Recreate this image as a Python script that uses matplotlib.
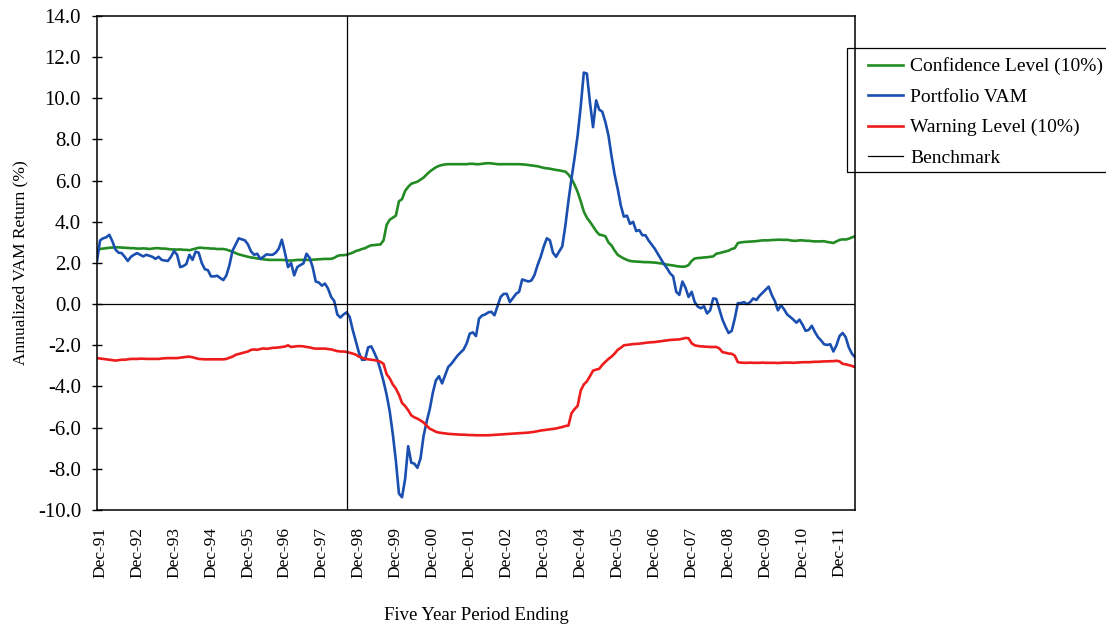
import matplotlib
matplotlib.use("Agg")
import matplotlib.pyplot as plt
from matplotlib.patches import Rectangle
import numpy as np

plt.rcParams['font.family'] = ['Liberation Serif', 'DejaVu Serif']

# monthly five-year rolling figures, Dec-91 .. Apr-12 (with one leading month)
portfolio_vam = [
    2.1, 3.1, 3.2, 3.25, 3.37, 3.05, 2.65, 2.5, 2.48, 2.3,
    2.1, 2.3, 2.4, 2.48, 2.4, 2.32, 2.4, 2.35, 2.3, 2.2,
    2.3, 2.15, 2.12, 2.1, 2.3, 2.58, 2.4, 1.8, 1.85, 1.95,
    2.4, 2.15, 2.55, 2.5, 2.0, 1.7, 1.65, 1.35, 1.35, 1.38,
    1.27, 1.17, 1.4, 1.9, 2.6, 2.9, 3.2, 3.15, 3.1, 2.9,
    2.56, 2.4, 2.45, 2.2, 2.3, 2.42, 2.4, 2.4, 2.5, 2.7,
    3.13, 2.5, 1.8, 2.0, 1.4, 1.8, 1.9, 1.98, 2.45, 2.25,
    1.8, 1.1, 1.05, 0.9, 1.0, 0.75, 0.35, 0.15, -0.5, -0.65,
    -0.5, -0.4, -0.62, -1.25, -1.8, -2.35, -2.7, -2.7, -2.1, -2.05,
    -2.35, -2.7, -3.2, -3.75, -4.4, -5.2, -6.3, -7.6, -9.2, -9.38,
    -8.5, -6.9, -7.7, -7.75, -7.95, -7.5, -6.4, -5.7, -5.1, -4.3,
    -3.7, -3.5, -3.85, -3.45, -3.05, -2.9, -2.7, -2.5, -2.35, -2.2,
    -1.9, -1.43, -1.37, -1.55, -0.7, -0.55, -0.5, -0.4, -0.37, -0.54,
    -0.1, 0.35, 0.5, 0.5, 0.1, 0.3, 0.5, 0.6, 1.2, 1.15,
    1.1, 1.15, 1.42, 1.9, 2.3, 2.8, 3.2, 3.1, 2.5, 2.3,
    2.56, 2.8, 3.8, 5.0, 6.1, 7.1, 8.2, 9.6, 11.25, 11.2,
    9.8, 8.6, 9.9, 9.45, 9.35, 8.85, 8.2, 7.2, 6.3, 5.6,
    4.8, 4.25, 4.3, 3.9, 4.0, 3.55, 3.6, 3.35, 3.35, 3.1,
    2.9, 2.7, 2.45, 2.2, 1.95, 1.75, 1.5, 1.35, 0.6, 0.45,
    1.1, 0.8, 0.35, 0.6, 0.1, -0.12, -0.2, -0.1, -0.45, -0.3,
    0.28, 0.25, -0.25, -0.75, -1.1, -1.4, -1.3, -0.7, 0.05, 0.05,
    0.1, 0.0, 0.1, 0.28, 0.2, 0.4, 0.55, 0.7, 0.85, 0.45,
    0.15, -0.3, -0.05, -0.25, -0.5, -0.62, -0.75, -0.9, -0.75, -1.0,
    -1.3, -1.25, -1.05, -1.35, -1.6, -1.76, -1.95, -1.98, -1.95, -2.3,
    -2.0, -1.55, -1.4, -1.6, -2.1, -2.4, -2.57,
]

confidence_level = [
    2.65, 2.68, 2.7, 2.72, 2.74, 2.75, 2.76, 2.76, 2.75, 2.74,
    2.73, 2.72, 2.72, 2.7, 2.7, 2.71, 2.7, 2.68, 2.7, 2.72,
    2.72, 2.7, 2.7, 2.68, 2.66, 2.66, 2.65, 2.66, 2.64, 2.64,
    2.62, 2.66, 2.7, 2.74, 2.74, 2.72, 2.72, 2.7, 2.7, 2.68,
    2.68, 2.68, 2.65, 2.6, 2.55, 2.48, 2.42, 2.38, 2.34, 2.3,
    2.27, 2.25, 2.22, 2.2, 2.18, 2.16, 2.15, 2.15, 2.15, 2.15,
    2.15, 2.14, 2.12, 2.12, 2.13, 2.15, 2.15, 2.15, 2.15, 2.15,
    2.16, 2.17, 2.18, 2.19, 2.2, 2.2, 2.2, 2.25, 2.34, 2.38,
    2.38, 2.4, 2.45, 2.5, 2.58, 2.62, 2.68, 2.72, 2.8, 2.86,
    2.87, 2.89, 2.9, 3.1, 3.85, 4.1, 4.2, 4.3, 5.0, 5.1,
    5.5, 5.7, 5.85, 5.9, 5.95, 6.05, 6.15, 6.3, 6.44, 6.55,
    6.65, 6.72, 6.76, 6.79, 6.8, 6.8, 6.8, 6.8, 6.8, 6.8,
    6.8, 6.82, 6.82, 6.8, 6.8, 6.82, 6.84, 6.85, 6.84, 6.82,
    6.8, 6.8, 6.8, 6.8, 6.8, 6.8, 6.8, 6.8, 6.79, 6.78,
    6.76, 6.74, 6.72, 6.7, 6.66, 6.62, 6.6, 6.58, 6.55, 6.52,
    6.5, 6.47, 6.44, 6.3, 6.1, 5.8, 5.45, 5.0, 4.5, 4.2,
    4.0, 3.78, 3.55, 3.38, 3.35, 3.3, 3.0, 2.85, 2.6, 2.4,
    2.3, 2.22, 2.15, 2.1, 2.08, 2.07, 2.06, 2.05, 2.04, 2.04,
    2.03, 2.02, 2.0, 1.98, 1.96, 1.92, 1.9, 1.88, 1.85, 1.83,
    1.82, 1.83, 1.9, 2.1, 2.22, 2.24, 2.25, 2.27, 2.28, 2.3,
    2.32, 2.45, 2.48, 2.52, 2.56, 2.6, 2.68, 2.72, 2.97, 3.0,
    3.02, 3.03, 3.04, 3.05, 3.06, 3.08, 3.1, 3.1, 3.1, 3.12,
    3.12, 3.13, 3.13, 3.12, 3.13, 3.1, 3.08, 3.08, 3.1, 3.1,
    3.08, 3.08, 3.06, 3.05, 3.05, 3.05, 3.06, 3.02, 3.0, 2.97,
    3.05, 3.12, 3.15, 3.14, 3.18, 3.24, 3.3,
]

warning_level = [
    -2.62, -2.64, -2.66, -2.68, -2.7, -2.72, -2.74, -2.72, -2.7, -2.7,
    -2.68, -2.66, -2.66, -2.66, -2.65, -2.65, -2.66, -2.66, -2.66, -2.66,
    -2.66, -2.64, -2.63, -2.62, -2.62, -2.62, -2.62, -2.6, -2.58, -2.56,
    -2.55, -2.58, -2.62, -2.66, -2.67, -2.68, -2.68, -2.68, -2.68, -2.68,
    -2.68, -2.68, -2.66, -2.6, -2.55, -2.46, -2.42, -2.38, -2.34, -2.3,
    -2.22, -2.2, -2.22, -2.18, -2.15, -2.17, -2.15, -2.12, -2.12, -2.1,
    -2.08, -2.06, -2.0, -2.08, -2.06, -2.04, -2.04, -2.05, -2.08, -2.1,
    -2.14, -2.16, -2.16, -2.16, -2.16, -2.18, -2.2, -2.24, -2.28, -2.3,
    -2.3, -2.32, -2.36, -2.4, -2.45, -2.55, -2.6, -2.65, -2.68, -2.7,
    -2.72, -2.75, -2.8, -2.9, -3.4, -3.6, -3.9, -4.1, -4.4, -4.8,
    -4.95, -5.15, -5.4, -5.5, -5.56, -5.65, -5.75, -5.9, -6.05, -6.12,
    -6.2, -6.24, -6.26, -6.28, -6.3, -6.31, -6.32, -6.33, -6.34, -6.34,
    -6.35, -6.36, -6.36, -6.37, -6.37, -6.37, -6.37, -6.37, -6.36, -6.35,
    -6.34, -6.33, -6.32, -6.31, -6.3, -6.29, -6.28, -6.27, -6.26, -6.25,
    -6.24, -6.22, -6.2, -6.17, -6.14, -6.12, -6.1, -6.08, -6.06, -6.04,
    -6.0, -5.97, -5.92, -5.9, -5.3, -5.1, -4.94, -4.2, -3.9, -3.75,
    -3.5, -3.23, -3.18, -3.14, -2.95, -2.8, -2.66, -2.55, -2.4, -2.22,
    -2.12, -2.0, -1.98, -1.96, -1.94, -1.93, -1.92, -1.9, -1.88, -1.86,
    -1.85, -1.84, -1.82, -1.8, -1.78, -1.76, -1.74, -1.73, -1.72, -1.71,
    -1.68, -1.64, -1.66, -1.9, -2.0, -2.03, -2.05, -2.06, -2.07, -2.08,
    -2.08, -2.08, -2.15, -2.33, -2.36, -2.4, -2.41, -2.5, -2.82, -2.84,
    -2.85, -2.85, -2.84, -2.85, -2.85, -2.85, -2.84, -2.85, -2.85, -2.85,
    -2.85, -2.86, -2.85, -2.84, -2.84, -2.84, -2.85, -2.84, -2.83, -2.82,
    -2.82, -2.82, -2.81, -2.8, -2.8, -2.79, -2.78, -2.78, -2.77, -2.77,
    -2.75, -2.78, -2.9, -2.92, -2.96, -3.0, -3.06,
]

tick_labels = ['Dec-91', 'Dec-92', 'Dec-93', 'Dec-94', 'Dec-95', 'Dec-96',
               'Dec-97', 'Dec-98', 'Dec-99', 'Dec-00', 'Dec-01', 'Dec-02',
               'Dec-03', 'Dec-04', 'Dec-05', 'Dec-06', 'Dec-07', 'Dec-08',
               'Dec-09', 'Dec-10', 'Dec-11']
tick_months = [1 + 12 * k for k in range(len(tick_labels))]
marker_month = 81  # Aug-98

months = np.arange(len(portfolio_vam))

fig = plt.figure(figsize=(11.06, 6.27), dpi=100)
ax = fig.add_axes([0.0877, 0.1866, 0.6853, 0.7879])

ax.plot(months, confidence_level, color='#238b23', lw=1.9, label='Confidence Level (10%)')
ax.plot(months, portfolio_vam, color='#1a4fb0', lw=1.9, label='Portfolio VAM')
ax.plot(months, warning_level, color='#ee1c1c', lw=1.9, label='Warning Level (10%)')
ax.axhline(0, color='black', lw=0.9, label='Benchmark')
ax.axvline(marker_month, color='black', lw=0.9)

ax.set_xlim(0, len(months) - 1)
ax.set_ylim(-10, 14)
ax.set_yticks(np.arange(-10, 15, 2))
ax.yaxis.set_major_formatter(matplotlib.ticker.FormatStrFormatter('%.1f'))
ax.set_xticks(tick_months)
ax.set_xticklabels(tick_labels, rotation=90)
ax.tick_params(axis='x', length=0, pad=12, labelsize=12.5)
ax.tick_params(axis='y', direction='inout', length=7, width=1, pad=8, labelsize=15)

for s in ax.spines.values():
    s.set_linewidth(1.1)

ax.set_ylabel('Annualized VAM Return (%)', fontsize=12.5, labelpad=7)
ax.set_xlabel('Five Year Period Ending', fontsize=13.5, labelpad=21)

# legend box sits over the right spine and runs off the figure edge
W, H = 1106, 627
fig.patches.append(Rectangle((847 / W, 1 - 172 / H), 270 / W, 124 / H,
                             transform=fig.transFigure, fill=False,
                             edgecolor='black', lw=0.9))
fig.legend(loc='upper left', bbox_to_anchor=(868 / W, 1 - 57.5 / H),
           fontsize=14, frameon=False, handlelength=1.8, handletextpad=0.36,
           borderpad=0, labelspacing=0.66, borderaxespad=0)

fig.savefig('out.png', dpi=100)
